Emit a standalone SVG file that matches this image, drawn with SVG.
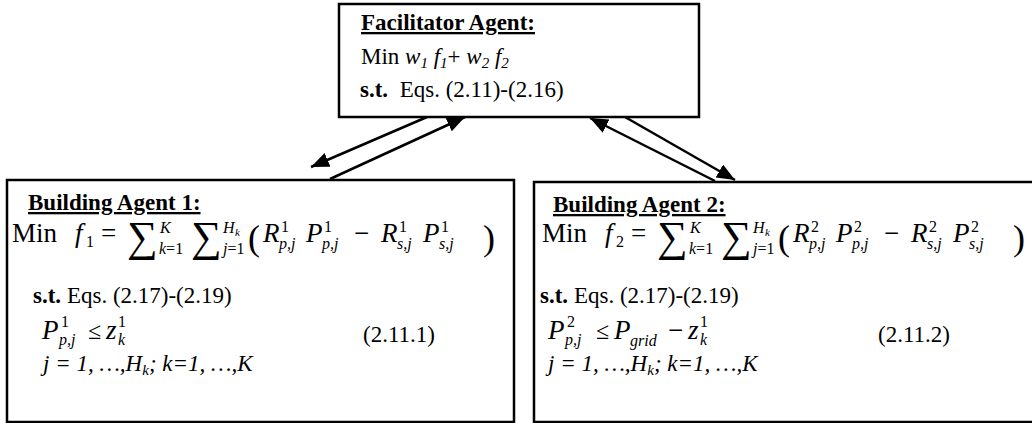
<svg xmlns="http://www.w3.org/2000/svg" width="1032" height="423" viewBox="0 0 1032 423">
  <defs>
    <marker id="head" markerUnits="userSpaceOnUse" markerWidth="20" markerHeight="16" refX="18" refY="7.5" orient="auto">
      <path d="M0,0 L18,7.5 L0,15 z" fill="#000"/>
    </marker>
    <style>
      .box { fill: #fff; stroke: #000; stroke-width: 2.5; }
      .t { font-family: "Liberation Serif", "Times New Roman", serif; font-size: 23px; fill: #000; }
      .h { font-weight: bold; text-decoration: underline; }
      .b { font-weight: bold; }
      .i { font-style: italic; }
      .m { font-family: "Liberation Serif", "Times New Roman", serif; font-size: 27px; fill: #000; }
      .le { font-family: "Liberation Serif", "Times New Roman", serif; font-size: 24px; fill: #000; }
      .s { font-family: "Liberation Serif", "Times New Roman", serif; font-size: 16px; fill: #000; }
      .ss { font-family: "Liberation Serif", "Times New Roman", serif; font-size: 11px; font-style: italic; fill: #000; }
      .sum { font-family: "Liberation Serif", "Times New Roman", serif; font-size: 43px; fill: #000; }
      .par { font-family: "Liberation Serif", "Times New Roman", serif; font-size: 36px; fill: #000; }
      .link { stroke: #000; stroke-width: 2.5; fill: none; marker-end: url(#head); }
    </style>
  </defs>

  <!-- message exchange between the facilitator and the two building agents -->
  <g id="connectors">
    <line class="link" x1="427" y1="117" x2="311" y2="167"/>
    <line class="link" x1="330" y1="179" x2="465" y2="117"/>
    <line class="link" x1="715" y1="181" x2="590" y2="118"/>
    <line class="link" x1="625" y1="117" x2="735" y2="180"/>
  </g>

  <!-- facilitator agent -->
  <g id="facilitator">
    <rect class="box" x="339" y="4" width="360" height="113"/>
    <text class="t h" x="361" y="30">Facilitator Agent:</text>
    <text class="t" x="361" y="64">Min <tspan class="i">w</tspan><tspan class="i" font-size="15" dy="4">1</tspan><tspan class="i" dy="-4"> f</tspan><tspan class="i" font-size="15" dy="4">1</tspan><tspan dy="-4">+ </tspan><tspan class="i">w</tspan><tspan class="i" font-size="15" dy="4">2</tspan><tspan class="i" dy="-4"> f</tspan><tspan class="i" font-size="15" dy="4">2</tspan></text>
    <text class="t" x="360" y="97" xml:space="preserve"><tspan class="b">s.t.</tspan>  Eqs. (2.11)-(2.16)</text>
  </g>

  <!-- building agent 1 -->
  <g id="building1">
    <rect class="box" x="7" y="180" width="507" height="242"/>
    <text class="t h" x="28" y="210">Building Agent 1:</text>
    <text class="m" x="12" y="242">Min</text>
    <text class="m i" x="75" y="242">f</text>
    <text class="s" x="86" y="247">1</text>
    <text class="m" x="101" y="242">=</text>
    <text class="sum" x="127" y="251">∑</text>
    <text class="s i" x="160" y="233">K</text>
    <text class="s" x="159" y="254"><tspan class="i">k</tspan>=1</text>
    <text class="sum" x="191" y="251">∑</text>
    <text class="s i" x="223" y="233">H</text>
    <text class="ss" x="235" y="236">k</text>
    <text class="s" x="223" y="254"><tspan class="i">j</tspan>=1</text>
    <text class="par" x="248" y="250">(</text>
    <text class="m i" x="263" y="242">R</text>
    <text class="s" x="281" y="232">1</text>
    <text class="s i" x="279" y="249">p,j</text>
    <text class="m i" x="306" y="242">P</text>
    <text class="s" x="324" y="232">1</text>
    <text class="s i" x="322" y="249">p,j</text>
    <text class="m" x="354" y="242">−</text>
    <text class="m i" x="381" y="242">R</text>
    <text class="s" x="399" y="232">1</text>
    <text class="s i" x="397" y="249">s,j</text>
    <text class="m i" x="423" y="242">P</text>
    <text class="s" x="441" y="232">1</text>
    <text class="s i" x="439" y="249">s,j</text>
    <text class="par" x="483" y="250">)</text>
    <text class="t" x="33" y="303"><tspan class="b">s.t.</tspan> Eqs. (2.17)-(2.19)</text>
    <text class="m i" x="42" y="339">P</text>
    <text class="s" x="61" y="327">1</text>
    <text class="s i" x="59" y="345">p,j</text>
    <text class="le" x="88" y="339">≤</text>
    <text class="m i" x="106" y="339">z</text>
    <text class="s" x="118" y="327">1</text>
    <text class="s i" x="118" y="345">k</text>
    <text class="t" x="363" y="342">(2.11.1)</text>
    <text class="t i" x="43" y="371">j = 1, …,H<tspan font-size="15" dy="4">k</tspan><tspan dy="-4">; k=1, …,K</tspan></text>
  </g>

  <!-- building agent 2 -->
  <g id="building2">
    <rect class="box" x="534" y="182" width="520" height="240"/>
    <text class="t h" x="553" y="212">Building Agent 2:</text>
    <text class="m" x="542" y="242">Min</text>
    <text class="m i" x="605" y="242">f</text>
    <text class="s" x="616" y="247">2</text>
    <text class="m" x="631" y="242">=</text>
    <text class="sum" x="657" y="251">∑</text>
    <text class="s i" x="690" y="233">K</text>
    <text class="s" x="689" y="254"><tspan class="i">k</tspan>=1</text>
    <text class="sum" x="721" y="251">∑</text>
    <text class="s i" x="753" y="233">H</text>
    <text class="ss" x="765" y="236">k</text>
    <text class="s" x="753" y="254"><tspan class="i">j</tspan>=1</text>
    <text class="par" x="778" y="250">(</text>
    <text class="m i" x="793" y="242">R</text>
    <text class="s" x="811" y="232">2</text>
    <text class="s i" x="809" y="249">p,j</text>
    <text class="m i" x="836" y="242">P</text>
    <text class="s" x="854" y="232">2</text>
    <text class="s i" x="852" y="249">p,j</text>
    <text class="m" x="884" y="242">−</text>
    <text class="m i" x="911" y="242">R</text>
    <text class="s" x="929" y="232">2</text>
    <text class="s i" x="927" y="249">s,j</text>
    <text class="m i" x="953" y="242">P</text>
    <text class="s" x="971" y="232">2</text>
    <text class="s i" x="969" y="249">s,j</text>
    <text class="par" x="1013" y="250">)</text>
    <text class="t" x="540" y="303"><tspan class="b">s.t.</tspan> Eqs. (2.17)-(2.19)</text>
    <text class="m i" x="548" y="339">P</text>
    <text class="s" x="567" y="327">2</text>
    <text class="s i" x="565" y="345">p,j</text>
    <text class="le" x="596" y="339">≤</text>
    <text class="m i" x="614" y="339">P</text>
    <text class="s i" x="630" y="346">grid</text>
    <text class="m" x="668" y="339">−</text>
    <text class="m i" x="688" y="339">z</text>
    <text class="s" x="700" y="327">1</text>
    <text class="s i" x="700" y="345">k</text>
    <text class="t" x="878" y="342">(2.11.2)</text>
    <text class="t i" x="548" y="371">j = 1, …,H<tspan font-size="15" dy="4">k</tspan><tspan dy="-4">; k=1, …,K</tspan></text>
  </g>
</svg>
